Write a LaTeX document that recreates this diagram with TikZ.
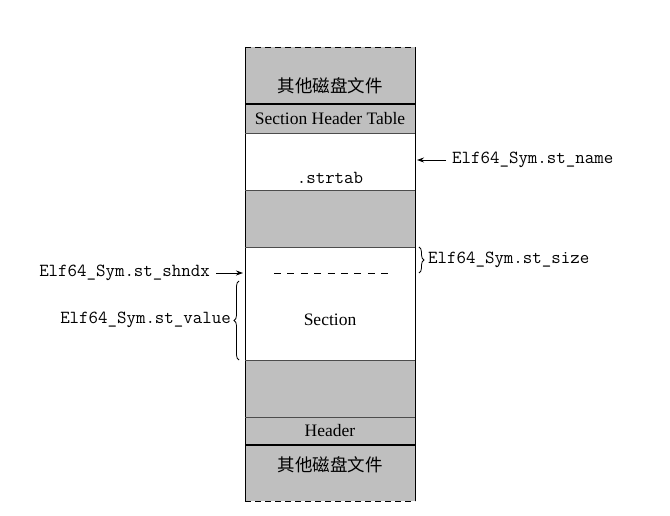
\documentclass[tikz,border=0pt]{standalone}
\usepackage{fontspec}
\setmainfont{Liberation Serif}
\newfontfamily\cjk{Noto Sans CJK SC}
\usetikzlibrary{decorations.pathreplacing,arrows.meta}
\begin{document}
\begin{tikzpicture}[x=1pt,y=-1pt,font=\fontsize{17.5}{20}\selectfont,
  blk/.style={rectangle,inner sep=0pt,outer sep=0pt,minimum width=170pt,anchor=north west,draw=none},
  grayblk/.style={blk,fill=gray!50},
  whiteblk/.style={blk,fill=white},
  sep/.style={draw=black!70,line width=0.8pt},
  thick sep/.style={draw=black,line width=2.4pt},
  side/.style={draw=black,line width=0.8pt},
  lbl/.style={inner sep=0pt,font=\fontsize{18.4}{21}\selectfont\ttfamily},
  arr/.style={-{Stealth[length=7pt,width=5pt]},line width=0.9pt},
  brc/.style={decorate,decoration={brace,amplitude=5pt},line width=0.8pt}]
\useasboundingbox (0,0) rectangle (670,516);
\fill[white] (0,0) rectangle (670,516);
% blocks
\node[grayblk,minimum height=57pt] (top) at (245,47) {};
\node[grayblk,minimum height=29pt] (sht) at (245,104) {};
\node[whiteblk,minimum height=57pt] (strtab) at (245,133) {};
\node[grayblk,minimum height=57pt] (g1) at (245,190) {};
\node[whiteblk,minimum height=113pt] (sect) at (245,247) {};
\node[grayblk,minimum height=57pt] (g2) at (245,360) {};
\node[grayblk,minimum height=28pt] (hdr) at (245,417) {};
\node[grayblk,minimum height=56pt] (bot) at (245,445) {};
% texts inside
\node (ttop) at (330,86) {\cjk 其他磁盘文件};
\node (tsht) at (sht.center) {Section Header Table};
\node[lbl] (tstr) at (330,178) {.strtab};
\node (tsect) at (330,320) {Section};
\node (thdr) at (hdr.center) {Header};
\node (tbot) at (330,465) {\cjk 其他磁盘文件};
% lines
\draw[dashed,side,dash pattern=on 6pt off 4pt] (top.north west) -- (top.north east);
\draw[dashed,side,dash pattern=on 6pt off 4pt] (bot.south west) -- (bot.south east);
\draw[side] (top.north west) -- (bot.south west);
\draw[side] (top.north east) -- (bot.south east);
\draw[thick sep] (top.south west) -- (top.south east);
\draw[sep] (sht.south west) -- (sht.south east);
\draw[sep] (strtab.south west) -- (strtab.south east);
\draw[sep] (g1.south west) -- (g1.south east);
\draw[sep] (sect.south west) -- (sect.south east);
\draw[sep] (g2.south west) -- (g2.south east);
\draw[thick sep] (hdr.south west) -- (hdr.south east);
% dashed marker in section
\coordinate (d1) at (274,273);
\coordinate (d2) at (388,273);
\draw[line width=0.9pt,dash pattern=on 7pt off 6.4pt] (d1) -- (d2);
% labels
\node[lbl,anchor=west] (lname) at (452,160) {Elf64\_Sym.st\_name};
\coordinate (aname) at (417,160);
\draw[arr] (lname.west) ++(-6,0) -- (aname);
\node[lbl,anchor=west] (lsize) at (428,260) {Elf64\_Sym.st\_size};
\draw[brc] (419,247) -- (419,273);
\node[lbl,anchor=east] (lshndx) at (210,273) {Elf64\_Sym.st\_shndx};
\coordinate (ashndx) at (243,273);
\draw[arr] (lshndx.east) ++(6,0) -- (ashndx);
\node[lbl,anchor=east] (lvalue) at (231,320) {Elf64\_Sym.st\_value};
\draw[brc] (239,360) -- (239,281);
\end{tikzpicture}
\end{document}
